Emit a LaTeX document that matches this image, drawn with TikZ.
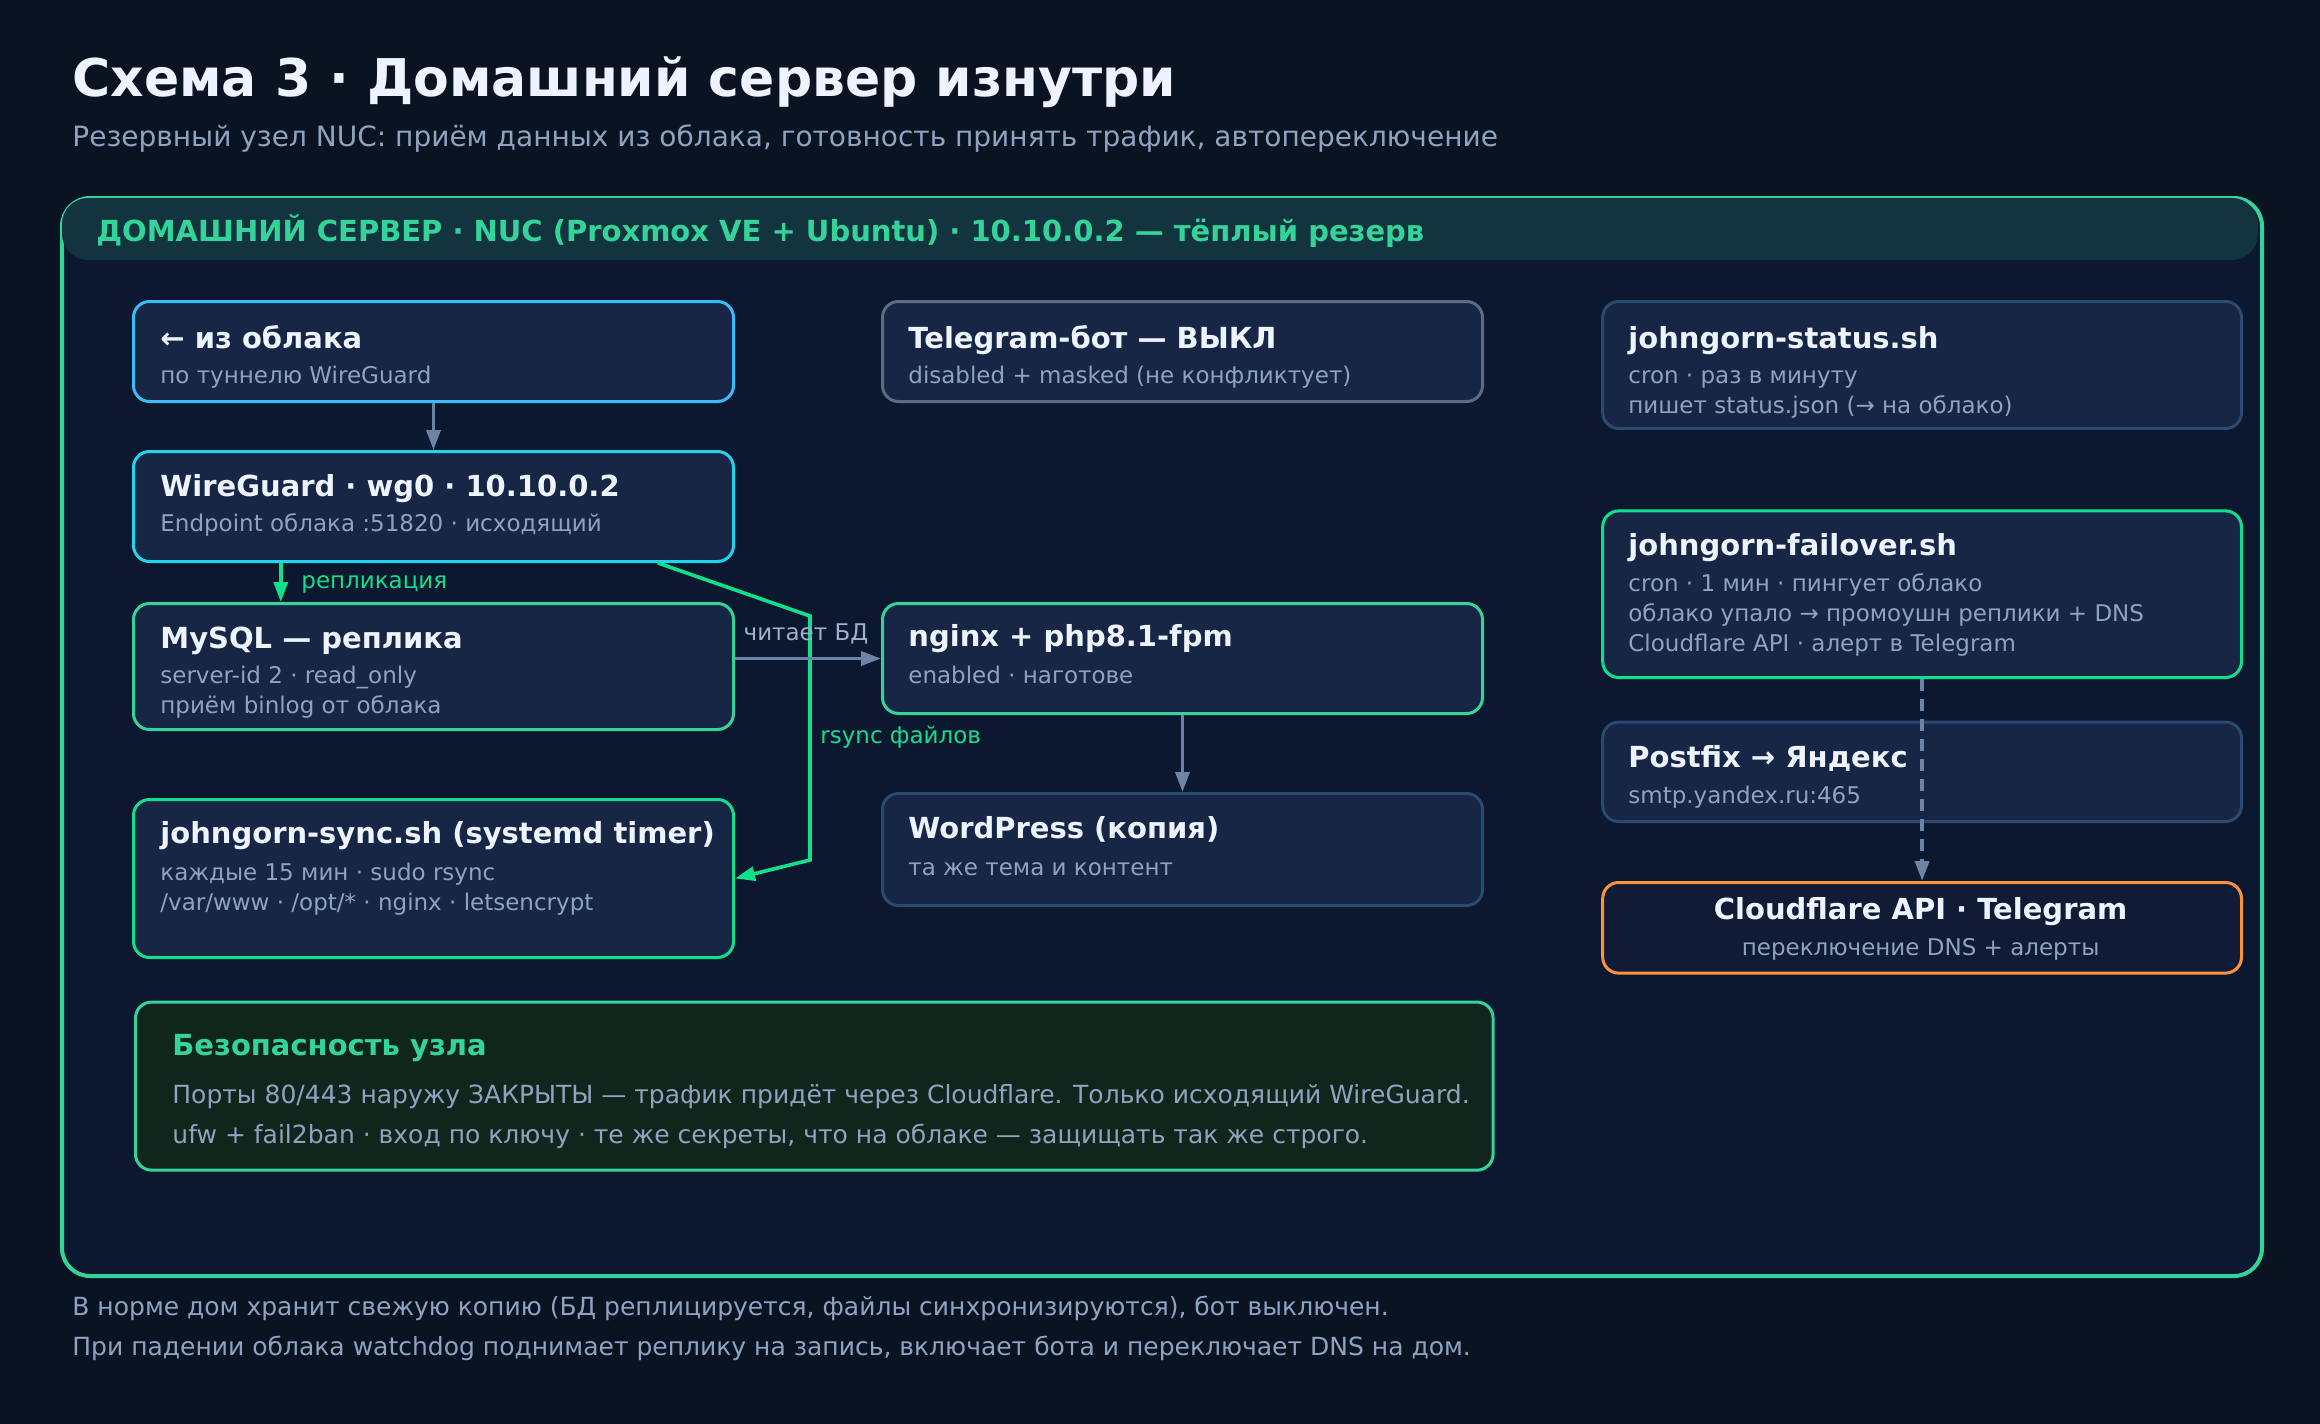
\documentclass[tikz,border=0pt]{standalone}
\usepackage{fontspec}
\setmainfont{DejaVu Sans}
\usetikzlibrary{positioning,arrows.meta}
\usepackage{xcolor}

\definecolor{cBg}{HTML}{0A1322}
\definecolor{cFrame}{HTML}{0C1730}
\definecolor{cBand}{HTML}{12343F}
\definecolor{cCard}{HTML}{162644}
\definecolor{cCardDark}{HTML}{101B35}
\definecolor{cSecFill}{HTML}{10261D}
\definecolor{cGreen}{HTML}{34D399}
\definecolor{cLime}{HTML}{10DF8C}
\definecolor{cSky}{HTML}{38BDF8}
\definecolor{cCyan}{HTML}{22D3EE}
\definecolor{cSlate}{HTML}{5B6B85}
\definecolor{cDim}{HTML}{2C4A70}
\definecolor{cOrange}{HTML}{FB923C}
\definecolor{cArrow}{HTML}{6B84A8}
\definecolor{cTitle}{HTML}{EEF4FF}
\definecolor{cSub}{HTML}{8FA3C0}
\definecolor{cLbl}{HTML}{9FB0C8}

\begin{document}
\begin{tikzpicture}[
  x=1pt, y=-1pt,
  card/.style={draw, line width=1.5pt, rounded corners=8pt, fill=cCard,
               anchor=north west, inner sep=0pt},
  ttl/.style={anchor=base west, inner sep=0pt, text=cTitle,
              font=\fontsize{14.5}{17}\selectfont\bfseries},
  sub/.style={anchor=base west, inner sep=0pt, text=cSub,
              font=\fontsize{11.5}{13}\selectfont},
  elbl/.style={anchor=base west, inner sep=0pt,
               font=\fontsize{11.5}{13}\selectfont},
  note/.style={anchor=base west, inner sep=0pt, text=cSub,
               font=\fontsize{12.5}{14}\selectfont},
  arr/.style={draw=cArrow, line width=1.8pt,
              -{Triangle[length=10pt,width=7pt]}},
  arrg/.style={arr, draw=cLime},
]

% ---- Canvas (SVG units, 1160 x 712) -----------------------------------------
\useasboundingbox (0,0) rectangle (1160,712);
\fill[cBg] (0,0) rectangle (1160,712);

% ---- Heading ----------------------------------------------------------------
\node[anchor=base west, inner sep=0pt, text=cTitle,
      font=\fontsize{26}{30}\selectfont\bfseries] (title) at (36,48)
      {Схема 3 · Домашний сервер изнутри};
\node[anchor=base west, inner sep=0pt, text=cSub,
      font=\fontsize{14}{16}\selectfont] (subtitle) at (36,73)
      {Резервный узел NUC: приём данных из облака, готовность принять трафик, автопереключение};

% ---- Home server frame ------------------------------------------------------
\node[draw=cGreen, fill=cFrame, line width=2pt, rounded corners=14pt,
      anchor=north west, inner sep=0pt,
      minimum width=1100pt, minimum height=539pt] (home) at (30,98) {};
\fill[cBand, rounded corners=13pt] (31,99) rectangle (1129,130);
\node[anchor=base west, inner sep=0pt, text=cGreen,
      font=\fontsize{14.5}{17}\selectfont\bfseries] (homeT) at (48,120.6)
      {ДОМАШНИЙ СЕРВЕР · NUC (Proxmox VE + Ubuntu) · 10.10.0.2 — тёплый резерв};

% ---- Left column ------------------------------------------------------------
\node[card, draw=cSky, minimum width=300pt, minimum height=50pt] (cloud) at (66,150) {};
\node[ttl] (cloudT) at (80,174) {← из облака};
\node[sub] (cloudS) at (80,191.5) {по туннелю WireGuard};

\node[card, draw=cCyan, minimum width=300pt, minimum height=55pt] (wg) at (66,225) {};
\node[ttl] (wgT) at (80,248) {WireGuard · wg0 · 10.10.0.2};
\node[sub] (wgS) at (80,265.8) {Endpoint облака :51820 · исходящий};

\node[card, draw=cGreen, minimum width=300pt, minimum height=63pt] (mysql) at (66,301) {};
\node[ttl] (mysqlT) at (80,324) {MySQL — реплика};
\node[sub] (mysqlS1) at (80,341.6) {server-id 2 · read\_only};
\node[sub] (mysqlS2) at (80,356.7) {приём binlog от облака};

\node[card, draw=cLime, minimum width=300pt, minimum height=79pt] (sync) at (66,399) {};
\node[ttl] (syncT) at (80,421.7) {johngorn-sync.sh (systemd timer)};
\node[sub] (syncS1) at (80,440) {каждые 15 мин · sudo rsync};
\node[sub] (syncS2) at (80,455) {/var/www · /opt/* · nginx · letsencrypt};

% ---- Middle column ----------------------------------------------------------
\node[card, draw=cSlate, minimum width=300pt, minimum height=50pt] (bot) at (440.5,150) {};
\node[ttl] (botT) at (454,174) {Telegram-бот — ВЫКЛ};
\node[sub] (botS) at (454,191.5) {disabled + masked (не конфликтует)};

\node[card, draw=cGreen, minimum width=300pt, minimum height=55pt] (nginx) at (440.5,301) {};
\node[ttl] (nginxT) at (454,323.3) {nginx + php8.1-fpm};
\node[sub] (nginxS) at (454,341.6) {enabled · наготове};

\node[card, draw=cDim, minimum width=300pt, minimum height=56pt] (wp) at (440.5,396) {};
\node[ttl] (wpT) at (454,419) {WordPress (копия)};
\node[sub] (wpS) at (454,437.5) {та же тема и контент};

% ---- Right column -----------------------------------------------------------
\node[card, draw=cDim, minimum width=319.4pt, minimum height=63.5pt] (status) at (800.6,150) {};
\node[ttl] (statusT) at (814,174) {johngorn-status.sh};
\node[sub] (statusS1) at (814,191.7) {cron · раз в минуту};
\node[sub] (statusS2) at (814,206.7) {пишет status.json (→ на облако)};

\node[card, draw=cLime, minimum width=319.4pt, minimum height=83.3pt] (failover) at (800.6,254.7) {};
\node[ttl] (failoverT) at (814,277.5) {johngorn-failover.sh};
\node[sub] (failoverS1) at (814,295.8) {cron · 1 мин · пингует облако};
\node[sub] (failoverS2) at (814,310.8) {облако упало → промоушн реплики + DNS};
\node[sub] (failoverS3) at (814,325.8) {Cloudflare API · алерт в Telegram};

\node[card, draw=cDim, minimum width=319.4pt, minimum height=49.7pt] (postfix) at (800.6,360.3) {};
\node[ttl] (postfixT) at (814,383.7) {Postfix → Яндекс};
\node[sub] (postfixS) at (814,401.7) {smtp.yandex.ru:465};

\node[card, draw=cOrange, fill=cCardDark, minimum width=319.4pt, minimum height=45.3pt] (cf) at (800.6,440.5) {};
\node[ttl, anchor=base] (cfT) at (960.3,459.7) {Cloudflare API · Telegram};
\node[sub, anchor=base] (cfS) at (960.3,477.5) {переключение DNS + алерты};

% ---- Security note ----------------------------------------------------------
\node[card, draw=cGreen, fill=cSecFill, minimum width=678.8pt, minimum height=84pt] (sec) at (67,500.3) {};
\node[ttl, text=cGreen] (secT) at (86,527.5) {Безопасность узла};
\node[note] (secL1) at (86,551.7) {Порты 80/443 наружу ЗАКРЫТЫ — трафик придёт через Cloudflare. Только исходящий WireGuard.};
\node[note] (secL2) at (86,571.7) {ufw + fail2ban · вход по ключу · те же секреты, что на облаке — защищать так же строго.};

% ---- Connectors -------------------------------------------------------------
\draw[arr] (cloud) -- (wg);
\draw[arrg] ([xshift=74.4pt]wg.south west) -- ([xshift=74.4pt]mysql.north west);
\node[elbl, text=cLime] (replLbl) at (150.5,294) {репликация};

\draw[arrg] ([xshift=263pt]wg.south west) -- (405,308) -- (405,430) -- (sync.east);
\node[elbl, text=cLime] (rsyncLbl) at (410,371.7) {rsync файлов};

\draw[arr] (mysql.east |- nginx.west) -- (nginx.west);
\node[elbl, anchor=base, text=cLbl] (readLbl) at (403,320) {читает БД};

\draw[arr] (nginx) -- (wp);
\draw[arr, dash pattern=on 6pt off 4pt] (failover) -- (cf);

% ---- Footer -----------------------------------------------------------------
\node[note, text=cSub] (foot1) at (36,657.5) {В норме дом хранит свежую копию (БД реплицируется, файлы синхронизируются), бот выключен.};
\node[note, text=cSub] (foot2) at (36,677.5) {При падении облака watchdog поднимает реплику на запись, включает бота и переключает DNS на дом.};

\end{tikzpicture}
\end{document}
